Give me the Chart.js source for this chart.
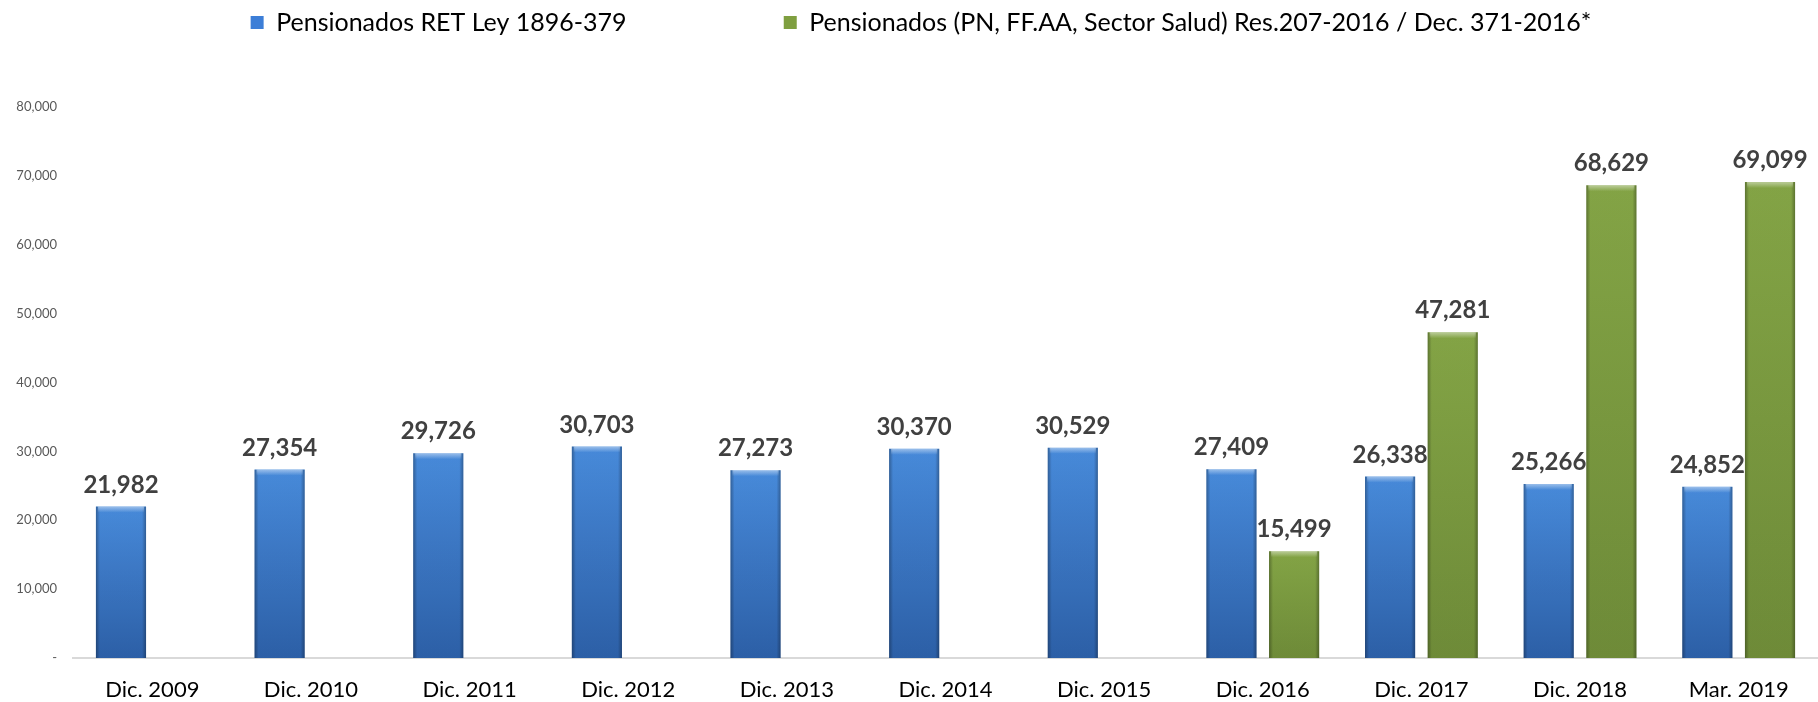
<!DOCTYPE html>
<html>
<head>
<meta charset="utf-8">
<script src="https://cdn.jsdelivr.net/npm/chart.js@4.4.1/dist/chart.umd.min.js"></script>
<style>
  html, body { margin: 0; padding: 0; background: #fff; }
  #wrap { width: 1818px; height: 702px; }
</style>
</head>
<body>
<div id="wrap"><canvas id="chartBars" width="1818" height="702"></canvas></div>
<script>
// categories and series values
const categories = ["Dic. 2009", "Dic. 2010", "Dic. 2011", "Dic. 2012", "Dic. 2013", "Dic. 2014",
  "Dic. 2015", "Dic. 2016", "Dic. 2017", "Dic. 2018", "Mar. 2019"];
const retValues = [21982, 27354, 29726, 30703, 27273, 30370, 30529, 27409, 26338, 25266, 24852];
const pnValues = [null, null, null, null, null, null, null, 15499, 47281, 68629, 69099];
const seriesNames = ["Pensionados RET Ley 1896-379",
  "Pensionados (PN, FF.AA, Sector Salud) Res.207-2016 / Dec. 371-2016*"];
const yTicks = [0, 10000, 20000, 30000, 40000, 50000, 60000, 70000, 80000];

const fmt = v => v.toLocaleString('en-US');

// vertical shading per bar (lighter top, darker bottom)
function barFill(top, bottom, fallback) {
  return function (c) {
    const chart = c.chart;
    const area = chart.chartArea;
    if (!area || c.raw == null) return fallback;
    const y0 = chart.scales.y.getPixelForValue(c.raw);
    const y1 = chart.scales.y.getPixelForValue(0);
    if (!isFinite(y0) || y1 - y0 < 1) return fallback;
    const g = chart.ctx.createLinearGradient(0, y0, 0, y1);
    g.addColorStop(0, top);
    g.addColorStop(1, bottom);
    return g;
  };
}

// darker edges + light top bevel over every bar
const bevelPlugin = {
  id: 'bevel',
  afterDatasetsDraw(chart) {
    const ctx = chart.ctx;
    chart.data.datasets.forEach((ds, di) => {
      const meta = chart.getDatasetMeta(di);
      meta.data.forEach((bar, i) => {
        if (ds.data[i] == null) return;
        const p = bar.getProps(['x', 'y', 'base', 'width'], true);
        const l = p.x - p.width / 2, r = p.x + p.width / 2;
        const h = p.base - p.y;
        ctx.save();
        const g = ctx.createLinearGradient(l, 0, r, 0);
        g.addColorStop(0, 'rgba(0,0,0,0.32)');
        g.addColorStop(0.08, 'rgba(0,0,0,0.04)');
        g.addColorStop(0.92, 'rgba(0,0,0,0.04)');
        g.addColorStop(1, 'rgba(0,0,0,0.32)');
        ctx.fillStyle = g;
        ctx.fillRect(l, p.y, p.width, h);
        const t = ctx.createLinearGradient(0, p.y, 0, p.y + 6);
        t.addColorStop(0, 'rgba(255,255,255,0.45)');
        t.addColorStop(1, 'rgba(255,255,255,0)');
        ctx.fillStyle = t;
        ctx.fillRect(l + 2, p.y, p.width - 4, 6);
        ctx.restore();
      });
    });
  }
};

// value labels above the bars
const valueLabels = {
  id: 'valueLabels',
  afterDatasetsDraw(chart) {
    const ctx = chart.ctx;
    ctx.save();
    ctx.font = 'bold 24px Lato';
    ctx.fillStyle = '#404040';
    ctx.textAlign = 'center';
    ctx.textBaseline = 'alphabetic';
    chart.data.datasets.forEach((ds, di) => {
      chart.getDatasetMeta(di).data.forEach((bar, i) => {
        const v = ds.data[i];
        if (v == null) return;
        ctx.fillText(fmt(v), bar.x, bar.y - 14);
      });
    });
    ctx.restore();
  }
};

// room between the legend and the plot, and a small nudge to the right
const legendGap = {
  id: 'legendGap',
  beforeInit(chart) {
    const fit = chart.legend.fit;
    chart.legend.fit = function () {
      fit.bind(chart.legend)();
      this.height += 62;
    };
  },
  afterLayout(chart) {
    chart.legend.left += 12;
    chart.legend.right += 12;
  }
};

const ctx = document.getElementById('chartBars').getContext('2d');
new Chart(ctx, {
  type: 'bar',
  data: {
    labels: categories,
    datasets: [
      {
        label: seriesNames[0],
        data: retValues,
        backgroundColor: barFill('#4A8FE2', '#2E63AD', '#3C7ED7'),
        borderWidth: 0,
        categoryPercentage: 0.79,
        barPercentage: 0.8
      },
      {
        label: seriesNames[1],
        data: pnValues,
        backgroundColor: barFill('#88AA48', '#72903A', '#7F9F40'),
        borderWidth: 0,
        categoryPercentage: 0.79,
        barPercentage: 0.8
      }
    ]
  },
  options: {
    responsive: false,
    animation: false,
    layout: { padding: { left: 0, right: 0, top: 0, bottom: 0 } },
    plugins: {
      tooltip: { enabled: false },
      legend: {
        position: 'top',
        labels: {
          font: { family: 'Lato', size: 25 },
          color: '#000',
          boxWidth: 13,
          boxHeight: 13,
          padding: 10,
          generateLabels(chart) {
            const items = Chart.defaults.plugins.legend.labels.generateLabels(chart);
            chart.ctx.save();
            chart.ctx.font = '25px Lato';
            const sp = chart.ctx.measureText(' ').width || 5;
            chart.ctx.restore();
            items[0].text = items[0].text + ' '.repeat(Math.round(150 / sp));
            items.forEach(it => { it.fillStyle = it.datasetIndex === 0 ? '#3C7ED7' : '#7F9F40'; });
            return items;
          }
        }
      }
    },
    scales: {
      x: {
        grid: { display: false, drawTicks: false },
        border: { display: true, color: '#D9D9D9', width: 2 },
        ticks: { color: '#000', font: { family: 'Lato', size: 22 }, padding: 19, maxRotation: 0 },
        afterFit(axis) { axis.height = 44; }
      },
      y: {
        min: 0,
        max: 80000,
        afterBuildTicks(axis) { axis.ticks = yTicks.map(v => ({ value: v })); },
        grid: { display: false, drawTicks: false },
        border: { display: false },
        ticks: {
          color: '#595959',
          font: { family: 'Lato', size: 13 },
          padding: 16,
          callback: v => (v === 0 ? '-' : fmt(v))
        },
        afterFit(axis) { axis.width = 73; }
      }
    }
  },
  plugins: [legendGap, bevelPlugin, valueLabels]
});
</script>
</body>
</html>
